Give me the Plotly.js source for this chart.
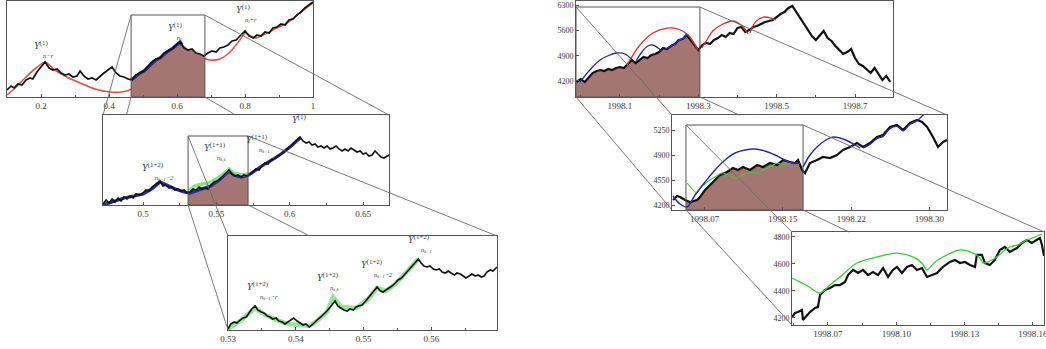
<!DOCTYPE html>
<html>
<head>
<meta charset="utf-8">
<script src="https://cdn.plot.ly/plotly-3.0.1.min.js"></script>
<style>
html,body{margin:0;padding:0;background:#fff;}
#chart{width:1046px;height:349px;}
</style>
</head>
<body>
<div id="chart"></div>
<script>
// ---------- Left column: fractal signal at three magnifications ----------
const aBlackX = [0.100,0.112,0.121,0.132,0.144,0.156,0.168,0.176,0.188,0.200,0.212,0.224,0.235,0.247,0.259,0.271,0.282,0.294,0.306,0.315,0.326,0.338,0.350,0.362,0.374,0.385,0.397,0.409,0.421,0.432,0.444,0.456,0.468,0.479,0.491,0.503,0.515,0.526,0.538,0.550,0.562,0.574,0.585,0.597,0.609,0.621,0.632,0.644,0.656,0.668,0.679,0.691,0.703,0.715,0.726,0.738,0.750,0.762,0.774,0.785,0.800,0.812,0.824,0.835,0.847,0.859,0.871,0.882,0.894,0.906,0.918,0.929,0.941,0.953,0.965,0.976,0.988,1.000];
const aBlackY = [7,11,9,13,12,17,19,18,25,30,35,29,27,28,24,22,23,20,21,26,21,18,19,17,21,24,27,30,24,21,20,18,17,22,24,26,31,35,38,39,44,46,48,52,55,49,47,48,44,43,41,44,46,45,49,50,52,56,57,61,66,61,59,62,61,65,64,69,70,73,72,77,78,82,85,89,92,95];
const aRedX = [0.100,0.124,0.153,0.182,0.212,0.241,0.276,0.315,0.359,0.403,0.438,0.468,0.506,0.544,0.579,0.609,0.638,0.668,0.697,0.726,0.756,0.785,0.800,0.829,0.859,0.888,0.918,0.947,0.976,1.000];
const aRedY = [2,9,19,28,35,27,20,14,8,5,5,8,15,26,40,53,45,40,37,38,45,57,64,59,63,68,73,80,88,94];
const aBlueX = [0.465,0.479,0.491,0.503,0.515,0.526,0.538,0.550,0.562,0.574,0.585,0.597,0.609,0.615];
const aBlueY = [17,21,24,26,30,34,37,39,43,46,48,52,55,52];
const aTicks = [0.2,0.4,0.6,0.8,1];
const aTickText = ['0.2','0.4','0.6','0.8','1'];

const bBlackX = [0.4727,0.4748,0.4768,0.4789,0.4809,0.4830,0.4850,0.4870,0.4891,0.4911,0.4932,0.4952,0.4980,0.5000,0.5020,0.5041,0.5061,0.5082,0.5102,0.5116,0.5136,0.5157,0.5177,0.5198,0.5218,0.5239,0.5259,0.5280,0.5300,0.5320,0.5341,0.5361,0.5382,0.5402,0.5423,0.5443,0.5464,0.5484,0.5505,0.5525,0.5545,0.5566,0.5586,0.5607,0.5627,0.5648,0.5668,0.5689,0.5709,0.5730,0.5750,0.5770,0.5791,0.5811,0.5832,0.5852,0.5873,0.5893,0.5914,0.5934,0.5955,0.5975,0.5995,0.6016,0.6036,0.6057,0.6070,0.6091,0.6111,0.6132,0.6152,0.6173,0.6193,0.6214,0.6234,0.6255,0.6275,0.6295,0.6316,0.6336,0.6357,0.6377,0.6398,0.6418,0.6439,0.6459,0.6480,0.6500,0.6520,0.6541,0.6561,0.6582,0.6602,0.6623,0.6643,0.6664,0.6677];
const bBlackY = [1,5,2,6,3,7,4,8,6,9,7,11,10,12,15,14,18,20,22,24,19,20,17,18,15,16,14,15,12,13,16,15,18,16,17,16,20,23,24,27,29,32,35,31,29,30,28,30,29,31,33,36,35,39,42,41,45,46,48,50,52,55,57,60,63,66,68,64,62,63,60,61,58,59,57,59,56,57,59,56,54,56,54,57,55,53,54,51,52,49,50,54,51,48,47,49,50];
const bBlueX = [0.4727,0.480,0.487,0.494,0.500,0.506,0.5116,0.516,0.522,0.528,0.532,0.540,0.546,0.552,0.5586,0.562,0.567,0.572,0.577,0.583,0.589,0.595,0.601,0.607];
const bBlueY = [0,4,7,9,11,16,23,20,16,13,12,16,19,25,34,30,28,30,35,41,46,52,59,67];
const bGreenX = [0.531,0.535,0.540,0.545,0.550,0.555,0.5586,0.562,0.567,0.5716];
const bGreenY = [14,19,21,22,26,31,36,32,30,31];
const bTicks = [0.5,0.55,0.6,0.65];
const bTickText = ['0.5','0.55','0.6','0.65'];

const cBlackX = [0.5300,0.5304,0.5309,0.5313,0.5318,0.5322,0.5327,0.5331,0.5335,0.5340,0.5344,0.5349,0.5353,0.5358,0.5362,0.5366,0.5371,0.5375,0.5380,0.5384,0.5389,0.5393,0.5397,0.5402,0.5406,0.5411,0.5415,0.5420,0.5424,0.5428,0.5433,0.5437,0.5442,0.5446,0.5451,0.5455,0.5458,0.5462,0.5467,0.5471,0.5476,0.5480,0.5485,0.5489,0.5493,0.5498,0.5502,0.5507,0.5511,0.5516,0.5520,0.5525,0.5529,0.5533,0.5538,0.5542,0.5547,0.5551,0.5556,0.5560,0.5564,0.5569,0.5573,0.5578,0.5581,0.5585,0.5589,0.5594,0.5598,0.5603,0.5607,0.5612,0.5616,0.5621,0.5625,0.5629,0.5634,0.5638,0.5643,0.5647,0.5651,0.5656,0.5660,0.5665,0.5669,0.5674,0.5678,0.5682,0.5687,0.5691,0.5696,0.5697];
const cBlackY = [1,6,8,7,10,12,13,17,21,24,20,18,17,14,13,11,12,9,8,6,8,10,12,9,7,5,6,3,5,8,11,13,16,19,23,27,29,24,22,20,19,21,20,23,24,25,28,32,36,40,43,39,38,40,42,44,47,50,52,55,59,62,65,69,71,67,64,63,64,61,60,61,58,57,59,57,55,57,56,54,52,54,56,54,55,53,54,58,60,59,62,63];
const cGreenX = [0.5300,0.5318,0.5340,0.5353,0.5371,0.5389,0.5406,0.5420,0.5433,0.5446,0.5455,0.5467,0.5489,0.5507,0.5520,0.5533,0.5547,0.5560,0.5573,0.5581];
const cGreenY = [1,9,22,16,10,6,5,4,10,18,33,23,22,31,42,39,46,55,65,71];
const cTicks = [0.53,0.54,0.55,0.56];
const cTickText = ['0.53','0.54','0.55','0.56'];

// ---------- Right column: index level at three time scales ----------
const dBlackX = [-0.12,0.0,0.1,0.2,0.3,0.4,0.5,0.6,0.7,0.8,0.9,1.0,1.1,1.2,1.3,1.4,1.5,1.6,1.7,1.8,1.9,2.0,2.1,2.2,2.3,2.4,2.5,2.6,2.7,2.8,2.9,3.0,3.1,3.2,3.3,3.4,3.5,3.6,3.7,3.8,3.9,4.0,4.1,4.2,4.3,4.4,4.5,4.6,4.7,4.8,4.9,5.0,5.1,5.2,5.3,5.4,5.5,5.6,5.7,5.8,5.9,6.0,6.1,6.2,6.3,6.4,6.5,6.6,6.7,6.8,6.9,7.0,7.1,7.2,7.3,7.4,7.5,7.6,7.7,7.8,7.9];
const dBlackY = [4172,4255,4172,4311,4421,4477,4504,4477,4532,4504,4560,4587,4560,4670,4781,4698,4781,4864,4836,4919,4947,5002,5113,5085,5168,5224,5334,5362,5473,5334,5196,5058,5196,5251,5224,5334,5390,5473,5417,5528,5500,5667,5694,5556,5611,5694,5722,5777,5833,5860,5888,5971,6054,6109,6220,6275,6109,5943,5777,5611,5445,5334,5473,5584,5390,5307,5168,5058,4947,5002,5085,4836,4670,4615,4504,4421,4560,4394,4228,4339,4172];
const dRedX = [1.18,1.51,1.84,2.20,2.48,2.74,2.99,null,3.09,3.25,3.37,3.63,3.88,4.06,4.19,4.27,null,4.32,4.42,4.55,4.70,4.85,4.98];
const dRedY = [4643,5196,5528,5666,5639,5473,5058,null,5113,5390,5584,5777,5860,5777,5639,5500,null,5528,5777,5915,5971,5943,5888];
const dBlueX = [-0.02,0.23,0.49,0.74,0.92,1.13,1.31,null,1.41,1.56,1.71,1.84,1.97,2.07,null,2.15,2.30,2.40,2.50,2.60,2.70,2.75];
const dBlueY = [4172,4504,4781,4919,4975,4947,4781,null,4753,5002,5168,5196,5113,5030,null,5060,5168,5224,5334,5362,5473,5420];
const dTicksX = [1,3,5,7];
const dTickTextX = ['1998.1','1998.3','1998.5','1998.7'];
const dTicksY = [4200,4900,5600,6300];

const eBlackX = [3.78,4.19,4.49,5.0,5.51,6.23,6.54,7.05,7.56,8.07,8.58,9.3,9.91,10.42,10.93,11.65,12.37,12.98,13.69,14.41,15.02,15.74,16.25,16.56,16.97,17.27,17.78,18.5,19.11,19.83,20.54,21.16,21.87,22.59,23.2,23.92,24.63,25.25,25.96,26.68,27.29,28.01,28.72,29.24,29.75,30.36,30.87,31.38,31.79];
const eBlackY = [4270,4326,4312,4270,4242,4270,4312,4410,4480,4550,4620,4662,4718,4690,4732,4690,4760,4732,4788,4760,4830,4802,4788,4830,4690,4648,4788,4830,4872,4858,4900,4970,5012,5068,5012,5068,5152,5180,5292,5320,5250,5348,5390,5362,5292,5152,5012,5082,5110];
const eBlueX = [3.77,4.49,5.21,6.03,7.05,8.07,9.09,10.12,11.14,12.16,13.18,14.21,15.23,15.94,16.76,null,17.07,17.78,18.6,19.42,20.14,20.85,21.67,22.39,22.9,null,23.2,23.92,24.63,25.25,25.96,26.68,27.29,28.01,28.72,29.54];
const eBlueY = [4326,4214,4172,4340,4522,4690,4830,4928,4970,4984,4956,4900,4830,4788,4788,null,4732,4900,5026,5110,5152,5138,5096,5040,4998,null,5000,5050,5130,5160,5270,5300,5240,5330,5380,5488];
const eGreenX = [5.21,6.23,6.54,7.25,8.07,8.79,9.4,10.12,10.83,11.65,12.37,12.98,13.69,14.41,15.02,15.74,16.25];
const eGreenY = [4508,4368,4438,4522,4592,4648,4620,4578,4620,4662,4648,4690,4732,4788,4760,4788,4774];
const eTicksX = [7,15,22,30];
const eTickTextX = ['1998.07','1998.15','1998.22','1998.30'];
const eTicksY = [4200,4550,4900,5250];

const fBlackX = [5.42,5.55,5.68,5.86,5.90,6.08,6.21,6.43,6.56,6.65,6.87,7.09,7.31,7.53,7.75,7.88,8.10,8.32,8.54,8.76,8.98,9.20,9.42,9.64,9.85,10.03,10.25,10.47,10.69,10.91,11.13,11.35,11.57,11.79,12.05,12.36,12.58,12.80,13.02,13.24,13.46,13.54,13.76,13.90,14.11,14.33,14.55,14.77,14.99,15.30,15.52,15.74,15.96,16.18,16.31,16.40,16.49];
const fBlackY = [4207,4237,4244,4259,4185,4222,4244,4274,4281,4370,4407,4422,4444,4444,4467,4518,4556,4533,4556,4518,4541,4518,4570,4504,4556,4578,4533,4578,4593,4556,4570,4504,4518,4533,4578,4615,4630,4607,4615,4593,4578,4667,4667,4607,4593,4630,4704,4726,4689,4718,4756,4778,4756,4778,4793,4741,4660];
const fGreenX = [5.42,6.03,6.65,7.09,7.53,8.27,9.15,10.03,10.73,11.13,11.35,11.70,12.05,12.80,13.37,13.68,13.81,14.11,14.42,14.77,14.99,15.34,15.74,16.09,16.40];
const fGreenY = [4496,4444,4385,4444,4504,4607,4652,4681,4652,4607,4556,4615,4652,4704,4681,4644,4607,4622,4652,4704,4726,4741,4778,4800,4822];
const fTicksX = [7,10,13,16];
const fTickTextX = ['1998.07','1998.10','1998.13','1998.16'];
const fTicksY = [4200,4400,4600,4800];

// ---------- page geometry ----------
const W = 1046, H = 349;
// subplot frames [left, right, top, bottom] in page pixels
const frames = {
  A: [7, 313, 0.5, 97],
  B: [103, 389, 115, 205],
  C: [228, 497, 236, 330],
  D: [576, 893, 1, 97],
  E: [672, 947, 115, 210],
  F: [792, 1044, 232, 325]
};
const axisIds = {A: ['x', 'y'], B: ['x2', 'y2'], C: ['x3', 'y3'], D: ['x4', 'y4'], E: ['x5', 'y5'], F: ['x6', 'y6']};
const ranges = {
  A: {x: [0.1, 1.0], y: [0, 96.5]},
  B: {x: [0.4727, 0.6677], y: [0, 90]},
  C: {x: [0.53, 0.5697], y: [0, 94]},
  D: {x: [-0.123, 7.97], y: [3757, 6414]},
  E: {x: [3.67, 31.79], y: [4130, 5460]},
  F: {x: [5.42, 16.49], y: [4148, 4837]}
};
// magnified windows: source subplot, window in data units, destination subplot
const windows = [
  {src: 'A', dst: 'B', x: [0.465, 0.682], y: [0, 82]},
  {src: 'B', dst: 'C', x: [0.5307, 0.5716], y: [0, 69]},
  {src: 'D', dst: 'E', x: [-0.123, 3.04], y: [3757, 6248]},
  {src: 'E', dst: 'F', x: [5.1, 17.07], y: [4130, 5320]}
];

const serif = 'Liberation Serif, Times New Roman, serif';
const tickFont = {family: serif, size: 9, color: '#3a3a3a'};

function domainOf(k) {
  const f = frames[k];
  return {x: [f[0] / W, f[1] / W], y: [1 - f[3] / H, 1 - f[2] / H]};
}
function axisName(id) { return id.length === 1 ? id + 'axis' : id[0] + 'axis' + id.slice(1); }

const layout = {
  width: W, height: H,
  margin: {l: 0, r: 0, t: 0, b: 0},
  paper_bgcolor: '#fff', plot_bgcolor: '#fff',
  showlegend: false, hovermode: false,
  shapes: [], annotations: []
};

function baseAxis(extra) {
  return Object.assign({
    showline: true, mirror: true, linecolor: '#555', linewidth: 1,
    showgrid: false, zeroline: false, ticks: 'inside', ticklen: 3,
    tickcolor: '#555', tickwidth: 1, tickfont: tickFont, fixedrange: true,
    ticklabeloverflow: 'allow'
  }, extra);
}

const axisSpec = {
  A: {x: {tickmode: 'array', tickvals: aTicks, ticktext: aTickText, minor: {ticks: 'inside', ticklen: 2, dtick: 0.1, tick0: 0, tickcolor: '#555'}},
      y: {showticklabels: false, ticks: ''}},
  B: {x: {tickmode: 'array', tickvals: bTicks, ticktext: bTickText, minor: {ticks: 'inside', ticklen: 2, dtick: 0.025, tick0: 0, tickcolor: '#555'}},
      y: {showticklabels: false, ticks: ''}},
  C: {x: {tickmode: 'array', tickvals: cTicks, ticktext: cTickText, minor: {ticks: 'inside', ticklen: 2, dtick: 0.005, tick0: 0, tickcolor: '#555'}},
      y: {showticklabels: false, ticks: ''}},
  D: {x: {tickmode: 'array', tickvals: dTicksX, ticktext: dTickTextX, minor: {ticks: 'inside', ticklen: 2, dtick: 1, tick0: 0, tickcolor: '#555'}},
      y: {tickmode: 'array', tickvals: dTicksY, ticktext: dTicksY.map(String), tickfont: {family: serif, size: 8, color: '#3a3a3a'}}},
  E: {x: {tickmode: 'array', tickvals: eTicksX, ticktext: eTickTextX},
      y: {tickmode: 'array', tickvals: eTicksY, ticktext: eTicksY.map(String), tickfont: {family: serif, size: 8, color: '#3a3a3a'}}},
  F: {x: {tickmode: 'array', tickvals: fTicksX, ticktext: fTickTextX, minor: {ticks: 'inside', ticklen: 2, dtick: 1.5, tick0: 5.5, tickcolor: '#555'}},
      y: {tickmode: 'array', tickvals: fTicksY, ticktext: fTicksY.map(String), tickfont: {family: serif, size: 8, color: '#3a3a3a'}}}
};

Object.keys(frames).forEach(k => {
  const d = domainOf(k);
  const [xi, yi] = axisIds[k];
  layout[axisName(xi)] = baseAxis(Object.assign({domain: d.x, range: ranges[k].x, anchor: yi}, axisSpec[k].x));
  layout[axisName(yi)] = baseAxis(Object.assign({domain: d.y, range: ranges[k].y, anchor: xi}, axisSpec[k].y));
});

function toPaper(k, x, y) {
  const d = domainOf(k), r = ranges[k];
  return [d.x[0] + (x - r.x[0]) / (r.x[1] - r.x[0]) * (d.x[1] - d.x[0]),
          d.y[0] + (y - r.y[0]) / (r.y[1] - r.y[0]) * (d.y[1] - d.y[0])];
}

// stop a connector where it first enters the destination frame
function clipToFrame(p, q, box) {
  const dx = q[0] - p[0], dy = q[1] - p[1];
  const pp = [-dx, dx, -dy, dy];
  const qq = [p[0] - box[0], box[1] - p[0], p[1] - box[2], box[3] - p[1]];
  let t0 = 0, t1 = 1;
  for (let i = 0; i < 4; i++) {
    if (pp[i] === 0) { if (qq[i] < 0) return q; }
    else {
      const r = qq[i] / pp[i];
      if (pp[i] < 0) t0 = Math.max(t0, r); else t1 = Math.min(t1, r);
    }
  }
  if (t0 <= t1 && t0 < 1 - 1e-6) return [p[0] + t0 * dx, p[1] + t0 * dy];
  return q;
}

windows.forEach(w => {
  const [xi, yi] = axisIds[w.src];
  layout.shapes.push({type: 'rect', xref: xi, yref: yi, x0: w.x[0], x1: w.x[1], y0: w.y[0], y1: w.y[1],
    line: {color: '#555', width: 1}, fillcolor: 'rgba(0,0,0,0)', layer: 'above'});
  const d = domainOf(w.dst);
  const box = [d.x[0], d.x[1], d.y[0], d.y[1]];
  const pairs = [
    [toPaper(w.src, w.x[0], w.y[1]), [d.x[0], d.y[1]]],
    [toPaper(w.src, w.x[0], w.y[0]), [d.x[0], d.y[0]]],
    [toPaper(w.src, w.x[1], w.y[1]), [d.x[1], d.y[1]]],
    [toPaper(w.src, w.x[1], w.y[0]), [d.x[1], d.y[0]]]
  ];
  pairs.forEach(([p, q]) => {
    const e = clipToFrame(p, q, box);
    layout.shapes.push({type: 'line', xref: 'paper', yref: 'paper', x0: p[0], y0: p[1], x1: e[0], y1: e[1],
      line: {color: '#6a6a6a', width: 0.9}, layer: 'above'});
  });
});

// part of a series inside a window, with its two end values on the window edges
function windowPart(xs, ys, x0, x1) {
  const ox = [], oy = [];
  for (let i = 0; i < xs.length; i++) {
    if (xs[i] >= x0 && xs[i] <= x1) { ox.push(xs[i]); oy.push(ys[i]); }
  }
  for (let i = 0; i < xs.length - 1; i++) {
    if (xs[i] < x0 && xs[i + 1] > x0) {
      ox.unshift(x0); oy.unshift(ys[i] + (ys[i + 1] - ys[i]) * (x0 - xs[i]) / (xs[i + 1] - xs[i]));
    }
    if (xs[i] < x1 && xs[i + 1] > x1) {
      ox.push(x1); oy.push(ys[i] + (ys[i + 1] - ys[i]) * (x1 - xs[i]) / (xs[i + 1] - xs[i]));
    }
  }
  return [ox, oy];
}

const traces = [];
function line(k, xs, ys, color, width, extra) {
  const [xi, yi] = axisIds[k];
  traces.push(Object.assign({type: 'scatter', mode: 'lines', x: xs, y: ys, xaxis: xi, yaxis: yi,
    line: {color: color, width: width}, hoverinfo: 'skip', connectgaps: false}, extra || {}));
}
function shade(k, xs, ys, win) {
  const [px, py] = windowPart(xs, ys, win.x[0], win.x[1]);
  line(k, px, py, 'rgba(0,0,0,0)', 0, {fill: 'tozeroy', fillcolor: 'rgb(163,118,113)'});
}

const BLACK = '#111', RED = '#e0302c', BLUE = '#2a2aa8', GREEN = '#2fd42f';

// A: red envelope sits under the shaded window
line('A', aRedX, aRedY, RED, 1.6, {line: {color: RED, width: 1.6, shape: 'spline', smoothing: 0.6}, opacity: 0.85});
shade('A', aBlackX, aBlackY, windows[0]);
line('A', aBlueX, aBlueY, BLUE, 3.2);
line('A', aBlackX, aBlackY, BLACK, 1.7);
// B
shade('B', bBlackX, bBlackY, windows[1]);
line('B', bBlueX, bBlueY, BLUE, 3.2);
line('B', bGreenX, bGreenY, '#6fe06f', 3.5, {opacity: 0.85});
line('B', bBlackX, bBlackY, BLACK, 1.6);
// C
line('C', cGreenX, cGreenY, '#7fe47f', 4.5, {opacity: 0.85});
line('C', cBlackX, cBlackY, BLACK, 1.6);
// D
shade('D', dBlackX, dBlackY, windows[2]);
line('D', dBlackX, dBlackY, BLACK, 2.2);
line('D', dRedX, dRedY, RED, 1.3, {line: {color: RED, width: 1.3, shape: 'spline', smoothing: 1}});
line('D', dBlueX, dBlueY, BLUE, 1.3, {line: {color: BLUE, width: 1.3, shape: 'spline', smoothing: 1}});
// E
shade('E', eBlackX, eBlackY, windows[3]);
line('E', eBlackX, eBlackY, BLACK, 2.2);
line('E', eGreenX, eGreenY, GREEN, 1.1, {line: {color: GREEN, width: 1.1, shape: 'spline', smoothing: 0.8}});
line('E', eBlueX, eBlueY, BLUE, 1.4, {line: {color: BLUE, width: 1.4, shape: 'spline', smoothing: 1}});
// F
line('F', fBlackX, fBlackY, BLACK, 2.2);
line('F', fGreenX, fGreenY, GREEN, 1.3, {line: {color: GREEN, width: 1.3, shape: 'spline', smoothing: 0.8}});

// peak labels: Y with a superscript level and a subscript index
function peakLabel(k, x, y, sup, sub) {
  const [xi, yi] = axisIds[k];
  layout.annotations.push({xref: xi, yref: yi, x: x, y: y, showarrow: false, xanchor: 'center', yanchor: 'bottom',
    text: '<i>Y</i><sup>(' + sup + ')</sup>', font: {family: serif, size: 10, color: '#2c4444'}});
  if (sub) {
    layout.annotations.push({xref: xi, yref: yi, x: x, y: y, showarrow: false, xanchor: 'left', yanchor: 'top',
      xshift: 0, yshift: 3, text: '<i>' + sub + '</i>', font: {family: serif, size: 6.5, color: '#2c4444'}});
  }
}
peakLabel('A', 0.2, 44, '1', 'n\u2212r');
peakLabel('A', 0.595, 62, '1', 'n<sub>l</sub>');
peakLabel('A', 0.795, 80, '1', 'n<sub>l</sub>+r');
peakLabel('B', 0.507, 30, '1+2', 'n<sub>k\u22121</sub>\u22122');
peakLabel('B', 0.549, 50, '1+1', 'n<sub>k,k</sub>');
peakLabel('B', 0.578, 58, '1+1', 'n<sub>k+1</sub>');
peakLabel('B', 0.606, 78, '1', '');
peakLabel('C', 0.5344, 36, '1+2', 'n<sub>k\u22121</sub>\u2212r');
peakLabel('C', 0.5448, 45, '1+2', 'n<sub>k,k</sub>');
peakLabel('C', 0.5513, 58, '1+2', 'n<sub>k+1</sub>\u22122');
peakLabel('C', 0.5582, 83, '1+2', 'n<sub>k+1</sub>');

Plotly.newPlot('chart', traces, layout, {staticPlot: true, displayModeBar: false});
</script>
</body>
</html>
